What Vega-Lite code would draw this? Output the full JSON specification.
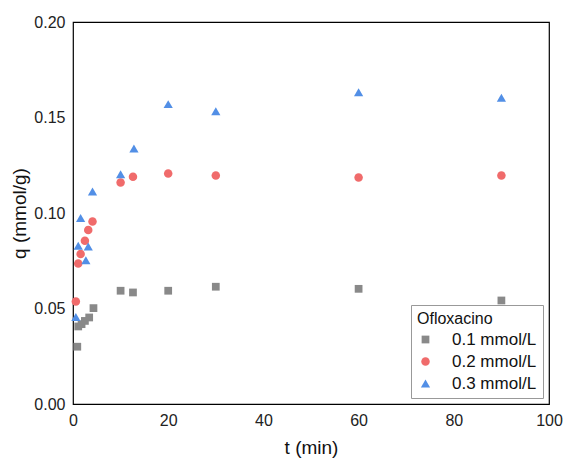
{
  "$schema": "https://vega.github.io/schema/vega-lite/v6.json",
  "width": 476,
  "height": 382,
  "autosize": {"type": "none"},
  "padding": {"left": 73, "top": 22, "right": 14, "bottom": 54},
  "background": "white",
  "config": {
    "font": "Liberation Sans",
    "view": {"stroke": "black", "strokeWidth": 1.2},
    "axis": {"grid": false, "ticks": false, "domain": false, "labelFlush": false, "labelFont": "Liberation Sans", "titleFont": "Liberation Sans", "labelColor": "#222", "titleColor": "#111", "titleFontWeight": "normal"}
  },
  "data": {
    "values": [
      {"t": 0.9, "q": 0.030, "s": "0.1 mmol/L"},
      {"t": 1.1, "q": 0.0406, "s": "0.1 mmol/L"},
      {"t": 1.8, "q": 0.0418, "s": "0.1 mmol/L"},
      {"t": 2.5, "q": 0.0435, "s": "0.1 mmol/L"},
      {"t": 3.4, "q": 0.0453, "s": "0.1 mmol/L"},
      {"t": 4.3, "q": 0.0502, "s": "0.1 mmol/L"},
      {"t": 10, "q": 0.0593, "s": "0.1 mmol/L"},
      {"t": 12.6, "q": 0.0584, "s": "0.1 mmol/L"},
      {"t": 20, "q": 0.0593, "s": "0.1 mmol/L"},
      {"t": 30, "q": 0.0614, "s": "0.1 mmol/L"},
      {"t": 60, "q": 0.0603, "s": "0.1 mmol/L"},
      {"t": 90, "q": 0.0542, "s": "0.1 mmol/L"},
      {"t": 0.6, "q": 0.0537, "s": "0.2 mmol/L"},
      {"t": 1.1, "q": 0.0736, "s": "0.2 mmol/L"},
      {"t": 1.6, "q": 0.0785, "s": "0.2 mmol/L"},
      {"t": 2.5, "q": 0.0855, "s": "0.2 mmol/L"},
      {"t": 3.2, "q": 0.0911, "s": "0.2 mmol/L"},
      {"t": 4.1, "q": 0.0956, "s": "0.2 mmol/L"},
      {"t": 10, "q": 0.116, "s": "0.2 mmol/L"},
      {"t": 12.6, "q": 0.119, "s": "0.2 mmol/L"},
      {"t": 20, "q": 0.1207, "s": "0.2 mmol/L"},
      {"t": 30, "q": 0.1196, "s": "0.2 mmol/L"},
      {"t": 60, "q": 0.1186, "s": "0.2 mmol/L"},
      {"t": 90, "q": 0.1196, "s": "0.2 mmol/L"},
      {"t": 0.6, "q": 0.0456, "s": "0.3 mmol/L"},
      {"t": 1.1, "q": 0.0829, "s": "0.3 mmol/L"},
      {"t": 1.6, "q": 0.0974, "s": "0.3 mmol/L"},
      {"t": 2.7, "q": 0.0753, "s": "0.3 mmol/L"},
      {"t": 3.2, "q": 0.0825, "s": "0.3 mmol/L"},
      {"t": 4.1, "q": 0.1113, "s": "0.3 mmol/L"},
      {"t": 10, "q": 0.1203, "s": "0.3 mmol/L"},
      {"t": 12.8, "q": 0.1338, "s": "0.3 mmol/L"},
      {"t": 20, "q": 0.157, "s": "0.3 mmol/L"},
      {"t": 30, "q": 0.1533, "s": "0.3 mmol/L"},
      {"t": 60, "q": 0.1632, "s": "0.3 mmol/L"},
      {"t": 90, "q": 0.1604, "s": "0.3 mmol/L"}
    ]
  },
  "mark": {"type": "point", "filled": true, "opacity": 1},
  "encoding": {
    "x": {"field": "t", "type": "quantitative", "title": "t (min)",
      "scale": {"domain": [0, 100], "nice": false},
      "axis": {"values": [0, 20, 40, 60, 80, 100], "labelFontSize": 16, "titleFontSize": 19, "labelPadding": 8, "titlePadding": 10}},
    "y": {"field": "q", "type": "quantitative", "title": "q (mmol/g)",
      "scale": {"domain": [0, 0.2], "nice": false},
      "axis": {"values": [0, 0.05, 0.1, 0.15, 0.2], "format": ".2f", "labelFontSize": 16, "titleFontSize": 19, "labelPadding": 8, "titlePadding": 4}},
    "size": {"field": "s", "type": "nominal", "legend": null,
      "scale": {"domain": ["0.1 mmol/L", "0.2 mmol/L", "0.3 mmol/L"], "range": [60, 85, 150]}},
    "color": {"field": "s", "type": "nominal",
      "scale": {"domain": ["0.1 mmol/L", "0.2 mmol/L", "0.3 mmol/L"], "range": ["#898989", "#f06b6b", "#528fe6"]},
      "legend": {"title": "Ofloxacino", "orient": "bottom-right", "offset": 6, "strokeColor": "#999", "padding": 6, "titlePadding": 4, "titleFontSize": 16, "titleFontWeight": "normal", "titleColor": "#111", "labelFontSize": 17, "labelColor": "#111", "symbolSize": 85, "rowPadding": 4, "labelOffset": 18}},
    "shape": {"field": "s", "type": "nominal",
      "scale": {"domain": ["0.1 mmol/L", "0.2 mmol/L", "0.3 mmol/L"], "range": ["square", "circle", "triangle-up"]}}
  }
}
